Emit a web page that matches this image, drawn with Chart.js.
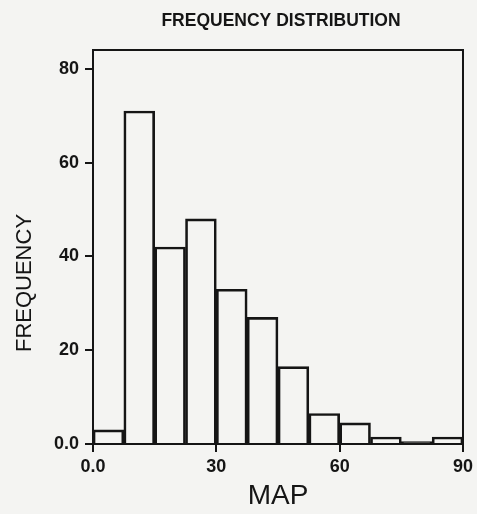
<!DOCTYPE html>
<html>
<head>
<meta charset="utf-8">
<title>Frequency distribution</title>
<script src="https://cdn.jsdelivr.net/npm/chart.js@4"></script>
<style>
  html, body { margin: 0; padding: 0; background: #f4f4f2; }
  #wrap { width: 477px; height: 514px; position: relative; }
</style>
</head>
<body>
<div id="wrap"><canvas id="chart"></canvas></div>
<script>
// histogram bins of MAP (start of each 7.5 wide bin)
const binStarts = [0, 7.5, 15, 22.5, 30, 37.5, 45, 52.5, 60, 67.5, 75, 82.5];
const binWidth = 7.5;
const frequency = [3, 71, 42, 48, 33, 27, 16.5, 6.5, 4.5, 1.5, 0.5, 1.5];

const xTicks = [0, 30, 60, 90];
const yTicks = [0, 20, 40, 60, 80];

const titleText = 'FREQUENCY DISTRIBUTION';
const xTitle = 'MAP';
const yTitle = 'FREQUENCY';

const ink = '#151515';
const fontFamily = '"Liberation Sans", Arial, Helvetica, sans-serif';

// frame + texts
const decorations = {
    id: 'decorations',
    afterDraw(chart) {
        const ctx = chart.ctx;
        const a = chart.chartArea;
        ctx.save();
        ctx.strokeStyle = ink;
        ctx.lineWidth = 2;
        ctx.strokeRect(a.left, a.top, a.right - a.left, a.bottom - a.top);

        ctx.fillStyle = ink;
        ctx.textAlign = 'center';
        ctx.textBaseline = 'middle';

        ctx.font = 'bold 17.5px ' + fontFamily;
        ctx.fillText(titleText, (a.left + a.right) / 2 + 3, 21);

        ctx.font = '28px ' + fontFamily;
        ctx.fillText(xTitle, (a.left + a.right) / 2, 496);

        ctx.translate(25, 283);
        ctx.rotate(-Math.PI / 2);
        ctx.font = '22px ' + fontFamily;
        ctx.fillText(yTitle, 0, 0);
        ctx.restore();
    }
};

const chart = new Chart(document.getElementById('chart'), {
    type: 'bar',
    data: {
        datasets: [{
            data: binStarts.map((s, i) => ({ x: s + binWidth / 2, y: frequency[i] })),
            backgroundColor: 'rgba(0,0,0,0)',
            borderColor: ink,
            borderWidth: 2,
            barPercentage: 1,
            categoryPercentage: 1,
        }],
    },
    options: {
        responsive: true,
        maintainAspectRatio: false,
        animation: false,
        layout: { padding: { top: 50, right: 14, left: 0, bottom: 0 } },
        plugins: {
            legend: { display: false },
            tooltip: { enabled: false },
        },
        scales: {
            x: {
                type: 'linear',
                min: 0,
                max: 90,
                offset: false,
                afterBuildTicks: scale => { scale.ticks = xTicks.map(v => ({ value: v })); },
                afterFit: scale => { scale.height = 70; },
                ticks: {
                    color: ink,
                    padding: 4,
                    maxRotation: 0,
                    font: { family: fontFamily, size: 18, weight: 'bold' },
                    callback: v => (v === 0 ? '0.0' : String(v)),
                },
                grid: { offset: false, drawOnChartArea: false, drawTicks: true, tickLength: 8, color: ink, lineWidth: 2 },
                border: { display: true, color: ink, width: 2 },
            },
            y: {
                min: 0,
                max: 84,
                afterBuildTicks: scale => { scale.ticks = yTicks.map(v => ({ value: v })); },
                afterFit: scale => { scale.width = 93; },
                ticks: {
                    color: ink,
                    padding: 6,
                    font: { family: fontFamily, size: 18, weight: 'bold' },
                    callback: v => (v === 0 ? '0.0' : String(v)),
                },
                grid: { drawOnChartArea: false, drawTicks: true, tickLength: 8, color: ink, lineWidth: 2 },
                border: { display: true, color: ink, width: 2 },
            },
        },
    },
    plugins: [decorations],
});
</script>
</body>
</html>
